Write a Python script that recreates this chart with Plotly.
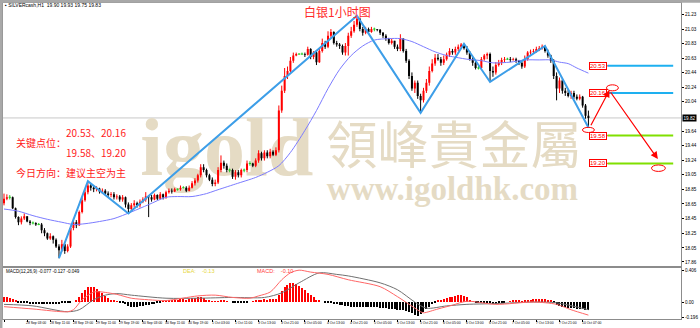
import plotly.graph_objects as go

# ---------------- data ----------------
first_open = 18.66
close = [18.72, 18.74, 18.74, 18.59, 18.47, 18.40, 18.45, 18.48, 18.41, 18.39,
         18.39, 18.37, 18.37, 18.29, 18.25, 18.18, 18.21, 18.16, 18.07, 18.02,
         18.10, 18.01, 18.07, 18.32, 18.40, 18.36, 18.54, 18.70, 18.81, 18.90,
         18.87, 18.85, 18.86, 18.82, 18.83, 18.79, 18.77, 18.78, 18.74, 18.75,
         18.71, 18.74, 18.64, 18.58, 18.63, 18.66, 18.63, 18.68, 18.71, 18.75,
         18.74, 18.71, 18.77, 18.72, 18.78, 18.74, 18.81, 18.83, 18.82, 18.85,
         18.85, 18.87, 18.87, 18.83, 18.87, 18.93, 18.97, 19.04, 19.15, 19.11,
         19.04, 18.98, 18.92, 18.94, 19.11, 19.21, 19.17, 19.11, 19.11, 19.02,
         19.08, 19.04, 19.11, 19.11, 19.20, 19.20, 19.17, 19.24, 19.34, 19.27,
         19.35, 19.30, 19.36, 19.32, 19.38, 19.92, 20.19, 20.39, 20.46, 20.60,
         20.67, 20.69, 20.69, 20.69, 20.68, 20.76, 20.65, 20.71, 20.58, 20.73,
         20.84, 20.79, 20.94, 20.99, 20.84, 20.82, 20.80, 20.71, 20.80, 20.94,
         21.00, 21.09, 21.17, 21.03, 20.98, 21.03, 20.99, 21.03, 21.03, 21.02,
         20.98, 20.94, 20.90, 20.84, 20.87, 20.79, 20.76, 20.90, 20.73, 20.60,
         20.39, 20.22, 20.30, 20.12, 20.06, 20.19, 20.30, 20.46, 20.56, 20.64,
         20.62, 20.57, 20.62, 20.68, 20.73, 20.71, 20.76, 20.79, 20.82, 20.77,
         20.71, 20.62, 20.57, 20.50, 20.50, 20.62, 20.67, 20.69, 20.46, 20.44,
         20.54, 20.57, 20.61, 20.62, 20.62, 20.61, 20.62, 20.60, 20.57, 20.52,
         20.62, 20.71, 20.72, 20.73, 20.76, 20.77, 20.79, 20.73, 20.67, 20.60,
         20.39, 20.22, 20.33, 20.19, 20.16, 20.12, 20.16, 20.11, 20.08, 20.11,
         19.99, 19.85, 19.82]
high = [18.79, 18.78, 18.77, 18.75, 18.60, 18.48, 18.48, 18.52, 18.48, 18.43,
        18.41, 18.40, 18.39, 18.39, 18.32, 18.26, 18.25, 18.22, 18.18, 18.10,
        18.16, 18.11, 18.10, 18.35, 18.45, 18.43, 18.56, 18.74, 18.85, 18.96,
        18.93, 18.90, 18.89, 18.87, 18.86, 18.85, 18.82, 18.81, 18.81, 18.78,
        18.77, 18.77, 18.75, 18.67, 18.66, 18.70, 18.68, 18.71, 18.74, 18.81,
        18.77, 18.77, 18.79, 18.78, 18.81, 18.79, 18.83, 18.86, 18.86, 18.87,
        18.86, 18.90, 18.89, 18.89, 18.90, 18.96, 19.00, 19.06, 19.19, 19.19,
        19.13, 19.06, 19.01, 18.98, 19.15, 19.31, 19.24, 19.20, 19.13, 19.13,
        19.11, 19.11, 19.13, 19.13, 19.24, 19.23, 19.21, 19.27, 19.38, 19.36,
        19.38, 19.38, 19.40, 19.38, 19.42, 19.99, 20.26, 20.50, 20.52, 20.65,
        20.71, 20.71, 20.70, 20.71, 20.71, 20.79, 20.77, 20.73, 20.73, 20.76,
        20.90, 20.87, 21.00, 21.03, 21.00, 20.87, 20.84, 20.82, 20.84, 20.98,
        21.06, 21.14, 21.21, 21.18, 21.06, 21.06, 21.05, 21.06, 21.05, 21.03,
        21.03, 20.99, 20.96, 20.91, 20.90, 20.87, 20.82, 20.96, 20.90, 20.76,
        20.62, 20.44, 20.33, 20.33, 20.15, 20.23, 20.35, 20.52, 20.62, 20.69,
        20.69, 20.65, 20.67, 20.71, 20.77, 20.76, 20.79, 20.82, 20.84, 20.83,
        20.80, 20.73, 20.65, 20.60, 20.53, 20.65, 20.69, 20.71, 20.71, 20.52,
        20.58, 20.61, 20.64, 20.65, 20.64, 20.65, 20.64, 20.64, 20.61, 20.58,
        20.67, 20.73, 20.75, 20.76, 20.79, 20.80, 20.82, 20.80, 20.75, 20.68,
        20.62, 20.44, 20.37, 20.35, 20.23, 20.20, 20.19, 20.19, 20.14, 20.14,
        20.12, 20.01, 19.92]
low = [18.63, 18.70, 18.71, 18.58, 18.45, 18.36, 18.37, 18.43, 18.40, 18.36,
       18.37, 18.35, 18.36, 18.25, 18.21, 18.16, 18.16, 18.11, 18.05, 17.91,
       18.00, 17.97, 17.99, 18.05, 18.29, 18.32, 18.35, 18.52, 18.68, 18.78,
       18.83, 18.81, 18.82, 18.79, 18.79, 18.77, 18.74, 18.74, 18.71, 18.71,
       18.68, 18.68, 18.60, 18.52, 18.55, 18.60, 18.60, 18.60, 18.66, 18.68,
       18.47, 18.68, 18.70, 18.70, 18.71, 18.71, 18.72, 18.79, 18.79, 18.81,
       18.83, 18.83, 18.86, 18.81, 18.82, 18.86, 18.90, 18.94, 19.01, 19.08,
       19.01, 18.96, 18.89, 18.89, 18.92, 19.08, 19.13, 19.08, 19.08, 18.99,
       18.98, 19.01, 19.01, 19.08, 19.08, 19.17, 19.15, 19.15, 19.21, 19.24,
       19.24, 19.27, 19.27, 19.30, 19.30, 19.35, 19.89, 20.16, 20.35, 20.44,
       20.57, 20.66, 20.68, 20.68, 20.65, 20.67, 20.62, 20.62, 20.54, 20.57,
       20.71, 20.76, 20.77, 20.91, 20.82, 20.79, 20.76, 20.68, 20.67, 20.67,
       20.91, 20.98, 21.06, 21.00, 20.94, 20.96, 20.96, 20.98, 21.00, 21.00,
       20.95, 20.91, 20.87, 20.82, 20.82, 20.76, 20.73, 20.73, 20.71, 20.57,
       20.35, 20.19, 20.16, 20.08, 19.89, 20.03, 20.16, 20.26, 20.44, 20.53,
       20.60, 20.53, 20.54, 20.60, 20.65, 20.68, 20.68, 20.73, 20.76, 20.75,
       20.68, 20.60, 20.53, 20.48, 20.48, 20.49, 20.60, 20.62, 20.31, 20.38,
       20.41, 20.52, 20.54, 20.58, 20.61, 20.58, 20.60, 20.57, 20.54, 20.49,
       20.50, 20.60, 20.68, 20.69, 20.71, 20.73, 20.75, 20.71, 20.64, 20.57,
       20.35, 20.06, 20.16, 20.15, 20.12, 20.10, 20.08, 20.08, 20.06, 20.06,
       19.96, 19.81, 19.69]

ma_idx = [0, 5, 10, 15, 20, 24, 28, 33, 38, 44, 50, 56, 60, 65, 70, 73, 80, 87, 91, 95,
          99, 104, 108, 112, 116, 120, 124, 128, 133, 137, 141, 145, 149, 153, 157, 160,
          165, 169, 175, 180, 185, 189, 192, 195, 198, 202]
ma_val = [18.58, 18.55, 18.49, 18.44, 18.40, 18.37, 18.38, 18.41, 18.45, 18.54,
          18.64, 18.74, 18.75, 18.75, 18.79, 18.83, 18.92, 19.01, 19.08, 19.17,
          19.35, 19.65, 19.92, 20.22, 20.48, 20.67, 20.80, 20.88, 20.90, 20.90,
          20.86, 20.79, 20.72, 20.67, 20.64, 20.62, 20.60, 20.57, 20.58, 20.61,
          20.61, 20.61, 20.58, 20.56, 20.50, 20.43]

zz_idx = [19, 29, 43, 122, 144, 159, 168, 187, 202]
zz_val = [17.91, 18.96, 18.52, 21.21, 19.89, 20.83, 20.31, 20.80, 19.69]

macd_hist = [0.06, 0.06, 0.05, 0.04, 0.02, -0.01,
             -0.02, -0.02, -0.02, -0.03, -0.03, -0.03, -0.03, -0.03, -0.03, -0.03, -0.03, -0.03, -0.03, -0.03,
             -0.02, -0.02, -0.01, -0.01, 0.00, 0.03, 0.07, 0.12, 0.16, 0.19, 0.20, 0.19, 0.17, 0.14, 0.11,
             0.08, 0.05, 0.03, 0.02, 0.01, -0.01,
             -0.02, -0.03, -0.05, -0.06, -0.06, -0.06, -0.05, -0.05, -0.04, -0.04, -0.03, -0.03, -0.02, -0.02,
             0.01, 0.02, 0.02, 0.03, 0.03, 0.03, 0.04, 0.04, 0.03, 0.04, 0.05, 0.05, 0.06, 0.06, 0.05,
             0.03, 0.02, 0.01, 0.01,
             0.01, 0.02, 0.02, 0.01, 0.00, -0.01, -0.02, -0.02, -0.02, -0.01, -0.01, 0.00, 0.01, 0.02,
             0.03, 0.03, 0.04, 0.03, 0.04, 0.04, 0.04,
             0.09, 0.14, 0.19, 0.22, 0.24, 0.25, 0.23, 0.21, 0.18, 0.15, 0.12, 0.09, 0.06, 0.03, 0.02,
             0.00, -0.01, -0.02, -0.02, -0.03, -0.03, -0.04, -0.04, -0.05, -0.05,
             -0.06, -0.06, -0.06, -0.06, -0.07, -0.07, -0.07, -0.07, -0.07, -0.07, -0.08, -0.08, -0.08,
             -0.09, -0.09, -0.09, -0.10, -0.10, -0.11, -0.12, -0.13, -0.15, -0.17, -0.18, -0.16, -0.13,
             -0.09, -0.06, -0.03, -0.01,
             0.02, 0.03, 0.04, 0.05, 0.06, 0.07, 0.08, 0.09, 0.09, 0.08, 0.06, 0.03, 0.01,
             -0.01, -0.02, -0.02, -0.02, -0.02, -0.02, -0.03, -0.03, -0.02, -0.02, -0.01, 0.00,
             0.01, 0.02, 0.02, 0.02, 0.01, 0.02, 0.03, 0.03, 0.04, 0.04, 0.04, 0.04, 0.04, 0.03, 0.02,
             -0.01, -0.04, -0.05, -0.06, -0.07, -0.08, -0.08, -0.08, -0.09, -0.09, -0.09, -0.10, -0.10]

dif_idx = [0, 10, 22, 24, 27, 31, 33, 39, 44, 50, 56, 67, 73, 79, 85, 88, 92, 96, 99, 102,
           106, 112, 119, 130, 136, 144, 145, 150, 155, 160, 170, 183, 191, 196, 202]
dif_val = [-0.06, -0.09, -0.126, -0.10, 0.03, 0.13, 0.134, 0.10, 0.05, 0.03,
           0.02, 0.08, 0.09, 0.06, 0.05, 0.08, 0.13, 0.29, 0.38, 0.415,
           0.39, 0.36, 0.29, 0.20, 0.07, -0.126, -0.14, -0.09, -0.04, 0.01,
           -0.03, 0.0, -0.03, -0.10, -0.17]
sig_idx = [0, 10, 22, 26, 31, 35, 39, 44, 56, 67, 79, 90, 96, 102, 109, 115, 119, 130, 136, 142,
           146, 153, 160, 170, 183, 191, 202]
sig_val = [-0.03, -0.05, -0.126, -0.10, 0.03, 0.09, 0.11, 0.09, 0.05, 0.05,
           0.06, 0.06, 0.12, 0.25, 0.38, 0.36, 0.34, 0.25, 0.16, 0.0,
           -0.08, -0.05, -0.03, -0.02, 0.0, -0.01, -0.10]

price_ticks = [21.23, 21.03, 20.83, 20.63, 20.44, 20.24, 20.04, 19.64, 19.44, 19.24,
               19.05, 18.85, 18.65, 18.45, 18.25, 18.05, 17.86]
last_price = 19.82
levels_blue = [20.53, 20.16]
levels_green = [19.58, 19.20]
macd_ticks = [0.406, 0.0, -0.196]
macd_ticktext = ["0.406", "0.00", "-0.196"]

time_labels = ["27 Sep 2012", "28 Sep 03:00", "28 Sep 11:00", "28 Sep 19:00", "29 Sep 11:00",
               "29 Sep 19:00", "30 Sep 03:00", "30 Sep 11:00", "30 Sep 19:00", "1 Oct 03:00",
               "1 Oct 11:00", "3 Oct 13:00", "3 Oct 21:00", "4 Oct 05:00", "4 Oct 13:00",
               "4 Oct 21:00", "5 Oct 05:00", "5 Oct 13:00", "5 Oct 21:00", "6 Oct 05:00",
               "6 Oct 13:00", "6 Oct 21:00", "7 Oct 05:00", "7 Oct 13:00", "7 Oct 21:00",
               "10 Oct 07:00"]
time_label_step = 8

N = len(close)
assert len(high) == N and len(low) == N and len(macd_hist) == N, (len(high), len(low), len(macd_hist))
idx = list(range(N))
opens = [first_open] + close[:-1]

up = [i for i in idx if close[i] > opens[i]]
dn = [i for i in idx if close[i] < opens[i]]
dj = [i for i in idx if close[i] == opens[i]]


def vsegs(ids, a, b):
    xs, ys = [], []
    for i in ids:
        xs += [i, i, None]
        ys += [a[i], b[i], None]
    return xs, ys


def hsegs(ids, v, half):
    xs, ys = [], []
    for i in ids:
        xs += [i - half, i + half, None]
        ys += [v[i], v[i], None]
    return xs, ys


RED = "#ff0000"
BLK = "#000000"
GRN = "#22cc22"
WM = "#e5dbc4"

fig = go.Figure()

# watermark (drawn first, below the candles)
fig.add_trace(go.Scatter(x=[77], y=[19.32], mode="text", text=["<b>igold</b>"],
                         textfont=dict(family="Liberation Serif", size=82, color=WM),
                         hoverinfo="skip", showlegend=False))
fig.add_trace(go.Scatter(x=[155.5], y=[19.36], mode="text", text=["領峰貴金屬"],
                         textfont=dict(family="Noto Sans CJK TC", size=51, color=WM),
                         hoverinfo="skip", showlegend=False))
fig.add_trace(go.Scatter(x=[155], y=[18.82], mode="text", text=["<b>www.igoldhk.com</b>"],
                         textfont=dict(family="Liberation Serif", size=33, color=WM),
                         hoverinfo="skip", showlegend=False))

# wicks
for ids, col in ((up, RED), (dn, BLK), (dj, GRN)):
    xs, ys = vsegs(ids, low, high)
    fig.add_trace(go.Scatter(x=xs, y=ys, mode="lines", line=dict(color=col, width=1),
                             hoverinfo="skip", showlegend=False))
# bodies
for ids, col in ((up, RED), (dn, BLK)):
    xs, ys = vsegs(ids, opens, close)
    fig.add_trace(go.Scatter(x=xs, y=ys, mode="lines", line=dict(color=col, width=2),
                             hoverinfo="skip", showlegend=False))
xs, ys = hsegs(dj, close, 0.4)
fig.add_trace(go.Scatter(x=xs, y=ys, mode="lines", line=dict(color=GRN, width=1),
                         hoverinfo="skip", showlegend=False))

# moving average
fig.add_trace(go.Scatter(x=ma_idx, y=ma_val, mode="lines", line=dict(color="#7b7bff", width=1, shape="spline", smoothing=0.8),
                         hoverinfo="skip", showlegend=False))
# zigzag
fig.add_trace(go.Scatter(x=zz_idx, y=zz_val, mode="lines", line=dict(color="#3d9ee8", width=2),
                         hoverinfo="skip", showlegend=False))

# MACD panel
pos = [i for i in idx if macd_hist[i] >= 0]
neg = [i for i in idx if macd_hist[i] < 0]
fig.add_trace(go.Bar(x=pos, y=[macd_hist[i] for i in pos], width=0.38, marker=dict(color=RED, line=dict(width=0)),
                     xaxis="x2", yaxis="y2", hoverinfo="skip", showlegend=False))
fig.add_trace(go.Bar(x=neg, y=[macd_hist[i] for i in neg], width=0.38, marker=dict(color=BLK, line=dict(width=0)),
                     xaxis="x2", yaxis="y2", hoverinfo="skip", showlegend=False))
fig.add_trace(go.Scatter(x=sig_idx, y=sig_val, mode="lines", line=dict(color="#707070", width=1, shape="spline", smoothing=0.8),
                         xaxis="x2", yaxis="y2", hoverinfo="skip", showlegend=False))
fig.add_trace(go.Scatter(x=dif_idx, y=dif_val, mode="lines", line=dict(color="#ff6666", width=1, shape="spline", smoothing=0.8),
                         xaxis="x2", yaxis="y2", hoverinfo="skip", showlegend=False))

# ---------------- layout ----------------
X0, X1 = -0.344, 234.0
axis_line = "#8c8c8c"
tickfont = dict(family="Liberation Sans", size=4.6, color="#000")

fig.update_layout(
    width=700, height=328, margin=dict(l=3, r=15, t=2, b=9),
    paper_bgcolor="white", plot_bgcolor="white", showlegend=False, bargap=0,
    xaxis=dict(domain=[0, 1], range=[X0, X1], anchor="y", showgrid=False, zeroline=False,
               showticklabels=False, ticks="", showline=True, linecolor=axis_line, linewidth=1, mirror=True),
    xaxis2=dict(domain=[0, 1], range=[X0, X1], matches="x", anchor="y2", showgrid=False, zeroline=False,
                showticklabels=False, ticks="outside", ticklen=2, tickcolor="#000",
                tickvals=[k * time_label_step for k in range(len(time_labels))],
                showline=True, linecolor=axis_line, linewidth=1, mirror=True),
    yaxis=dict(domain=[0.16719, 1], range=[17.802, 21.385], side="right", showgrid=False, zeroline=False,
               tickvals=price_ticks, ticktext=["%.2f" % v for v in price_ticks], ticks="outside", ticklen=2,
               tickcolor="#000", tickfont=tickfont, showline=True, linecolor=axis_line, linewidth=1, mirror=True),
    yaxis2=dict(domain=[0, 0.16088], range=[-0.2205, 0.441], side="right", showgrid=False, zeroline=False,
                tickvals=macd_ticks, ticktext=macd_ticktext, ticks="outside", ticklen=2, tickcolor="#000",
                tickfont=tickfont, showline=True, linecolor=axis_line, linewidth=1, mirror=True),
)

shapes = []
# window frame (left and top grey bars)
shapes.append(dict(type="rect", xref="paper", yref="paper", x0=-0.0044, x1=-0.0008, y0=-0.03, y1=1.01,
                   fillcolor="#a8a8a8", line=dict(width=0), layer="above"))
shapes.append(dict(type="rect", xref="paper", yref="paper", x0=-0.0044, x1=1.03, y0=1.0005, y1=1.01,
                   fillcolor="#a8a8a8", line=dict(width=0), layer="above"))
# current price line
shapes.append(dict(type="line", xref="paper", yref="y", x0=0, x1=1, y0=last_price, y1=last_price,
                   line=dict(color="#c8c8c8", width=1), layer="below"))
for lv in levels_blue:
    shapes.append(dict(type="line", xref="x", yref="y", x0=208.6, x1=231.3, y0=lv, y1=lv,
                       line=dict(color="#1eb0f0", width=2)))
for lv in levels_green:
    shapes.append(dict(type="line", xref="x", yref="y", x0=208.6, x1=231.3, y0=lv, y1=lv,
                       line=dict(color="#80e000", width=2)))
for lv in levels_blue + levels_green:
    shapes.append(dict(type="line", xref="x", yref="y", x0=207.9, x1=208.6, y0=lv, y1=lv,
                       line=dict(color=RED, width=1)))
# red ellipses
for cx, cy, hw, hh in ((210.3, 20.23, 2.06, 0.041), (226.2, 19.136, 2.4, 0.044), (202.0, 19.657, 2.06, 0.035)):
    shapes.append(dict(type="circle", xref="x", yref="y", x0=cx - hw, x1=cx + hw, y0=cy - hh, y1=cy + hh,
                       line=dict(color=RED, width=1)))
fig.update_layout(shapes=shapes)

ann = []
ann.append(dict(text="白银1小时图", xref="paper", yref="paper", x=0.494, y=0.9716, showarrow=False,
                xanchor="center", yanchor="middle", font=dict(family="Noto Sans CJK SC", size=12, color="#ff2a2a")))
cn = dict(family="Noto Sans CJK SC", size=10, color="#ff1a1a")
ann.append(dict(text="20.53、20.16", xref="paper", yref="paper", x=0.0895, y=0.5915, showarrow=False,
                xanchor="left", yanchor="middle", font=cn))
ann.append(dict(text="关键点位：", xref="paper", yref="paper", x=0.0162, y=0.5593, showarrow=False,
                xanchor="left", yanchor="middle", font=cn))
ann.append(dict(text="19.58、19.20", xref="paper", yref="paper", x=0.0895, y=0.5284, showarrow=False,
                xanchor="left", yanchor="middle", font=cn))
ann.append(dict(text="今日方向：建议主空为主", xref="paper", yref="paper", x=0.0162, y=0.4647, showarrow=False,
                xanchor="left", yanchor="middle", font=cn))
ann.append(dict(text="▪ SILVERcash,H1  19.90 19.93 19.75 19.83", xref="paper", yref="paper", x=0.0, y=0.9921,
                showarrow=False, xanchor="left", yanchor="middle", font=dict(family="Liberation Sans", size=5, color="#000")))
ann.append(dict(text="MACD(12,26,9) -0.077 -0.127 -0.049", xref="paper", yref="paper", x=0.0015, y=0.1514,
                showarrow=False, xanchor="left", yanchor="middle", font=dict(family="Liberation Sans", size=4.5, color="#000")))
ann.append(dict(text="DEA:    -0.13", xref="paper", yref="paper", x=0.262, y=0.153, showarrow=False,
                xanchor="left", yanchor="middle", font=dict(family="Liberation Sans", size=5.5, color="#e6d640")))
ann.append(dict(text="MACD:    -0.10", xref="paper", yref="paper", x=0.371, y=0.153, showarrow=False,
                xanchor="left", yanchor="middle", font=dict(family="Liberation Sans", size=5.5, color="#ff4040")))
# level labels
for lv in levels_blue + levels_green:
    ann.append(dict(text="%.2f" % lv, xref="x", yref="y", x=205.4, y=lv, showarrow=False,
                    xanchor="center", yanchor="middle", bgcolor="white", bordercolor=RED, borderwidth=1, borderpad=0,
                    font=dict(family="Liberation Sans", size=6, color=RED)))
# current price box
ann.append(dict(text="%.2f" % last_price, xref="paper", yref="y", x=1.0015, y=last_price, showarrow=False,
                xanchor="left", yanchor="middle", bgcolor="#000", borderpad=0.5,
                font=dict(family="Liberation Sans", size=4.6, color="#fff")))
# red arrows
ann.append(dict(text="", xref="x", yref="y", axref="x", ayref="y", x=209.3, y=20.20, ax=202.6, ay=19.70,
                showarrow=True, arrowhead=2, arrowsize=1.2, arrowwidth=1.2, arrowcolor=RED))
ann.append(dict(text="", xref="x", yref="y", axref="x", ayref="y", x=226.0, y=19.26, ax=209.3, ay=20.19,
                showarrow=True, arrowhead=2, arrowsize=1.2, arrowwidth=1.2, arrowcolor=RED))
# time labels
for k, t in enumerate(time_labels):
    ann.append(dict(text=t, xref="x", yref="paper", x=k * time_label_step - 0.6, y=-0.0126, showarrow=False,
                    xanchor="left", yanchor="middle", borderpad=0,
                    font=dict(family="Liberation Sans", size=3.4, color="#000")))
fig.update_layout(annotations=ann)

fig.write_html("out.html")
